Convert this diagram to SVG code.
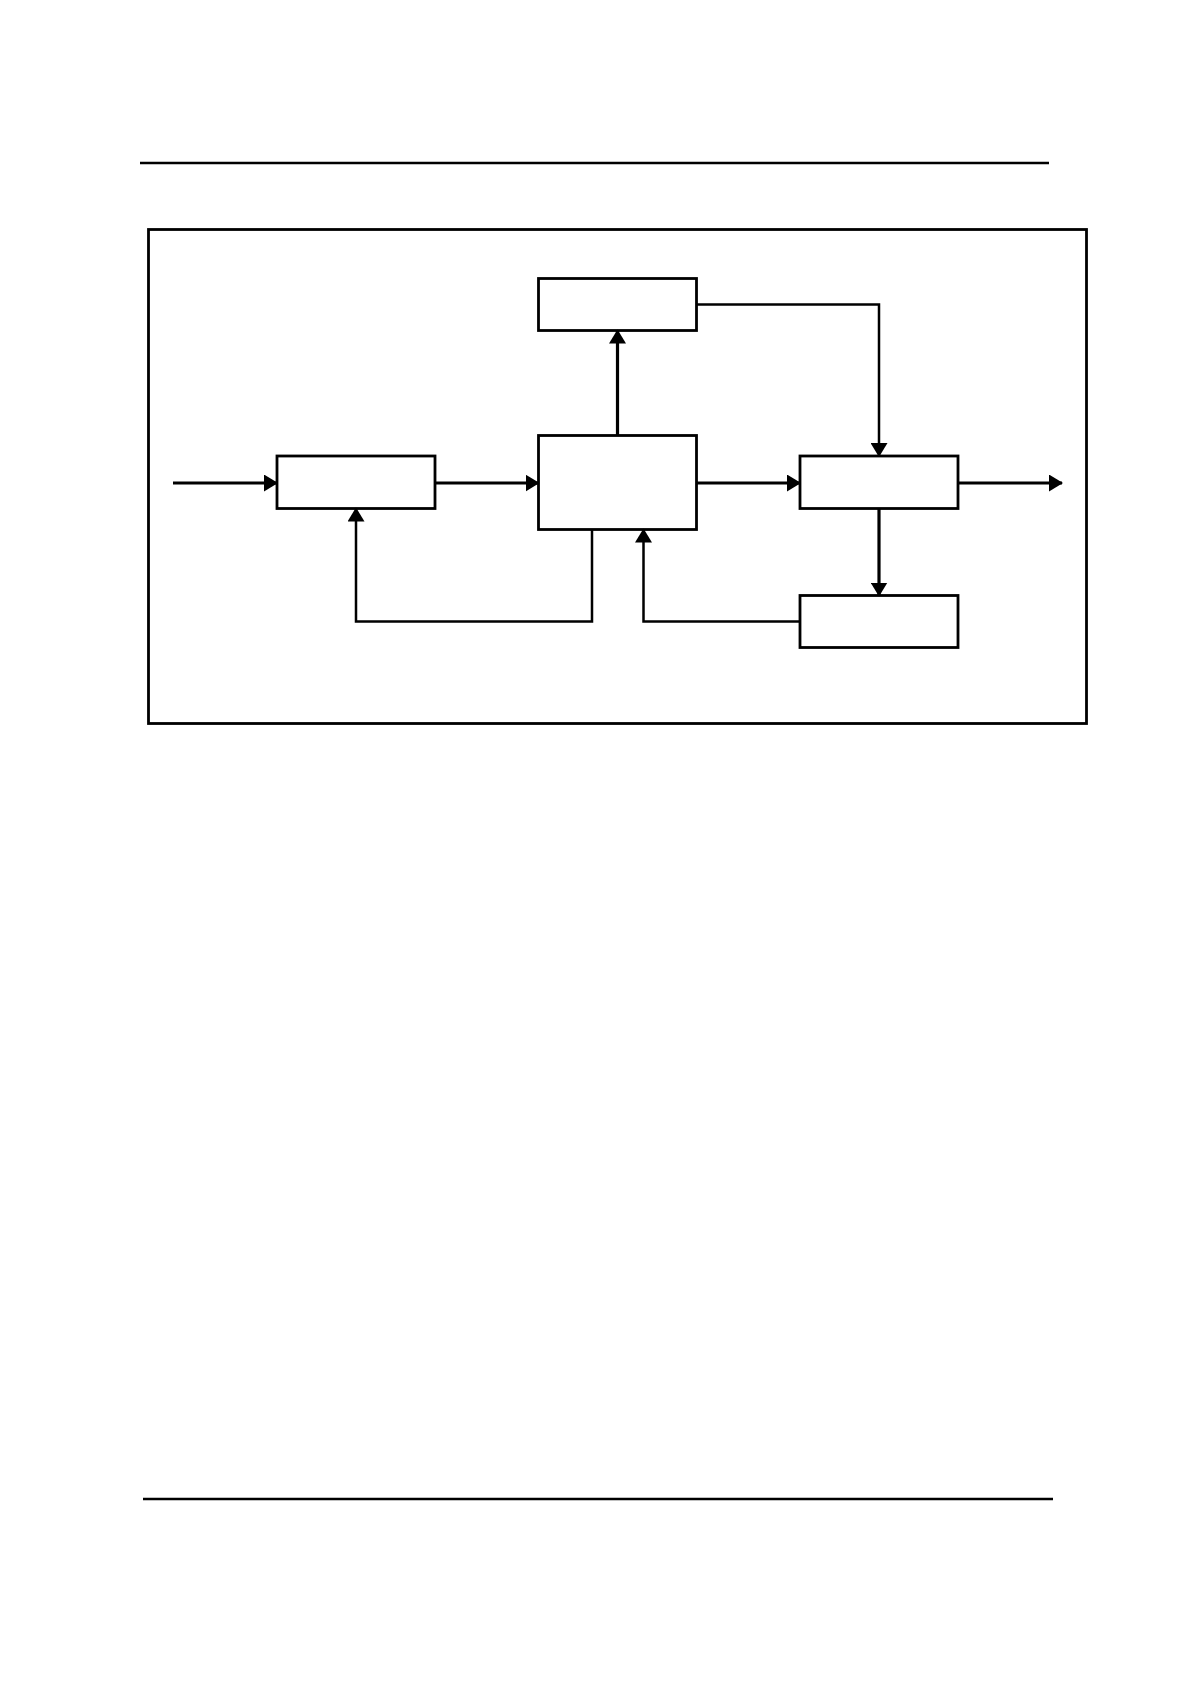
<svg xmlns="http://www.w3.org/2000/svg" width="1190" height="1684" viewBox="0 0 1190 1684">
<style>
.box{fill:#fff;stroke:#000;stroke-width:2.8}
.rule{stroke:#000;stroke-width:2.6}
.c{fill:none;stroke:#000;stroke-width:2.5}
.t{fill:none;stroke:#000;stroke-width:3.2}
</style>
<defs>
<marker id="ah" markerUnits="userSpaceOnUse" markerWidth="15" markerHeight="17" refX="13" refY="8.5" orient="auto">
<path d="M0,0 L14,8.5 L0,17 Z" fill="#000"/>
</marker>
</defs>
<rect width="1190" height="1684" fill="#fff"/>
<line class="rule" x1="140" y1="163" x2="1049" y2="163"/>
<line class="rule" x1="143" y1="1499" x2="1053" y2="1499"/>
<rect id="frame" x="148.5" y="229.5" width="938" height="494" fill="none" stroke="#000" stroke-width="2.8"/>
<g id="box1"><rect class="box" x="277" y="456" width="158" height="52.5"/></g>
<g id="boxA"><rect class="box" x="538.5" y="278.5" width="158" height="52"/></g>
<g id="boxB"><rect class="box" x="538.5" y="435.5" width="158" height="94"/></g>
<g id="boxC"><rect class="box" x="800" y="456" width="158" height="52.5"/></g>
<g id="boxD"><rect class="box" x="800" y="595.5" width="158" height="52"/></g>
<g id="connectors">
<line class="t" x1="173" y1="483" x2="277" y2="483" marker-end="url(#ah)"/>
<line class="t" x1="435" y1="483" x2="538.5" y2="483" marker-end="url(#ah)"/>
<line class="t" x1="696.5" y1="483" x2="800" y2="483" marker-end="url(#ah)"/>
<line class="t" x1="958" y1="483" x2="1062" y2="483" marker-end="url(#ah)"/>
<line class="t" x1="617.5" y1="435.5" x2="617.5" y2="330.5" marker-end="url(#ah)"/>
<polyline class="c" points="696.5,304.5 879,304.5 879,456" marker-end="url(#ah)"/>
<line class="t" x1="879" y1="508.5" x2="879" y2="595.5" marker-end="url(#ah)"/>
<polyline class="c" points="592,529.5 592,621.5 356,621.5 356,508.5" marker-end="url(#ah)"/>
<polyline class="c" points="800,621.5 643.5,621.5 643.5,529.5" marker-end="url(#ah)"/>
</g>
</svg>
